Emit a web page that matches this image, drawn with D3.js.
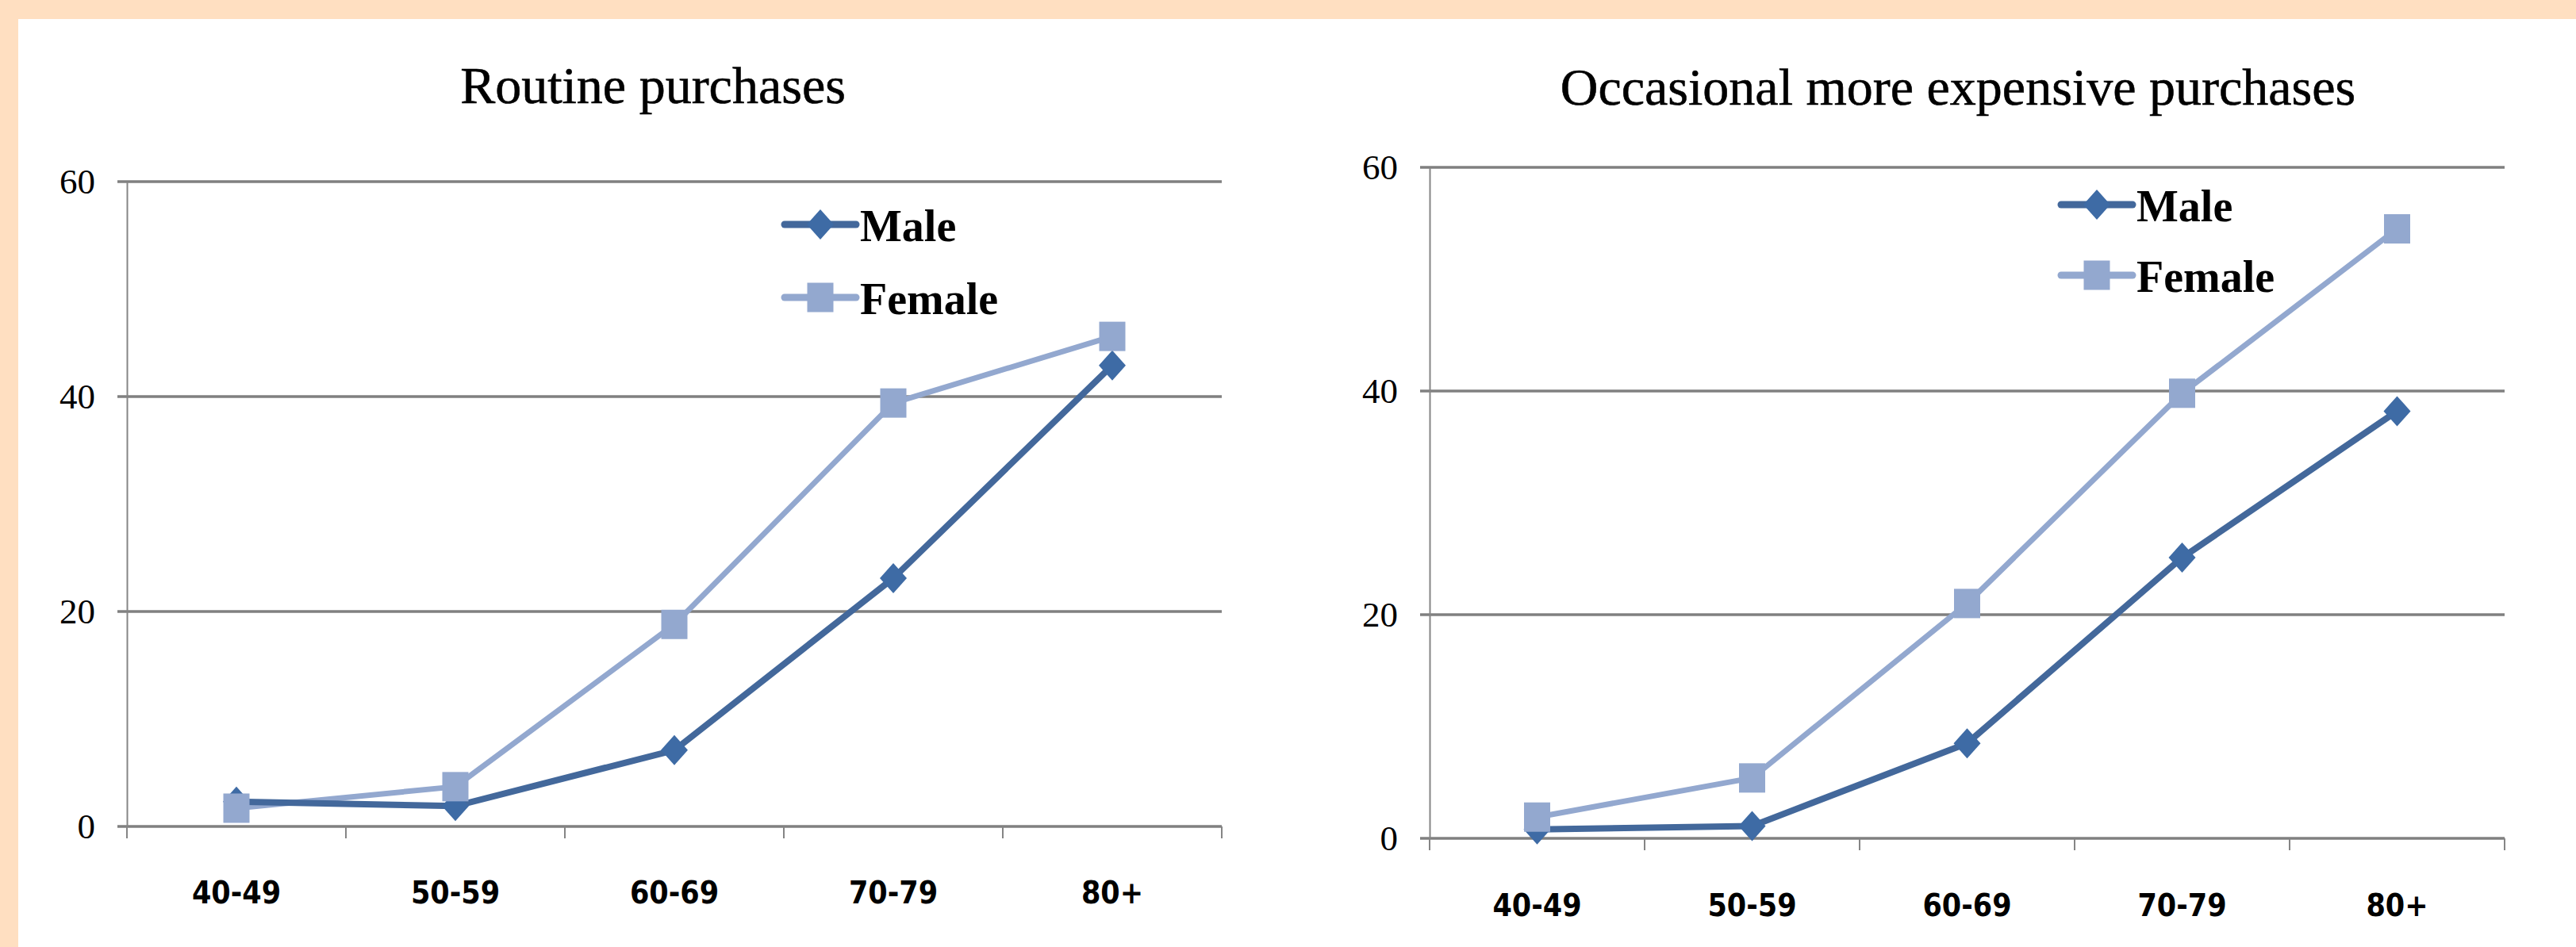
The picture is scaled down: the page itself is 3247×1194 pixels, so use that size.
<!DOCTYPE html>
<html>
<head>
<meta charset="utf-8">
<script src="https://cdn.jsdelivr.net/npm/d3@7"></script>
<style>
  html, body { margin: 0; padding: 0; background: #ffffff; }
  svg { display: block; }
</style>
</head>
<body>
<svg id="chart" width="3247" height="1194"></svg>
<script>
// ---- data ----
const categories = ["40-49", "50-59", "60-69", "70-79", "80+"];
const yTicks = [0, 20, 40, 60];
const seriesNames = ["Male", "Female"];
const routineMale = [2.3, 1.9, 7.1, 23.1, 42.9];
const routineFemale = [1.7, 3.7, 18.8, 39.4, 45.6];
const occasionalMale = [0.8, 1.1, 8.5, 25.1, 38.2];
const occasionalFemale = [1.9, 5.4, 21.0, 39.8, 54.5];
const titles = ["Routine purchases", "Occasional more expensive purchases"];

// ---- layout ----
const W = 3247, H = 1194;
const svg = d3.select("#chart");
const colors = {
  maleLine: "#43689B", maleMarker: "#3E6BA5",
  femaleLine: "#93A8CF", femaleMarker: "#93A8CF",
  grid: "#808080", axis: "#858585", bg: "#FFDFC1"
};

// background frame (peach top and left bands)
svg.append("rect").attr("x", 0).attr("y", 0).attr("width", W).attr("height", H).attr("fill", colors.bg);
svg.append("rect").attr("x", 23).attr("y", 24).attr("width", W - 23).attr("height", H - 24).attr("fill", "#ffffff");

const panels = [
  { title: titles[0], male: routineMale, female: routineFemale,
    x0: 160, x1: 1540, y0: 1042, y1: 229, titleX: 823, titleY: 130,
    legX: 989, legY: 283, legGap: 92, catY: 1139 },
  { title: titles[1], male: occasionalMale, female: occasionalFemale,
    x0: 1802, x1: 3157, y0: 1057, y1: 211, titleX: 2468, titleY: 132,
    legX: 2598, legY: 258, legGap: 89, catY: 1155 }
];

function diamond(sel, cx, cy, color) {
  const hw = 17, hh = 19;
  sel.append("path")
    .attr("d", `M${cx},${cy - hh}L${cx + hw},${cy}L${cx},${cy + hh}L${cx - hw},${cy}Z`)
    .attr("fill", color);
}
function square(sel, cx, cy, color) {
  sel.append("rect").attr("x", cx - 16.5).attr("y", cy - 18.5)
    .attr("width", 33).attr("height", 37).attr("fill", color);
}

panels.forEach(p => {
  const g = svg.append("g");
  const x = d3.scaleBand().domain(categories).range([p.x0, p.x1]).paddingInner(0).paddingOuter(0);
  const y = d3.scaleLinear().domain([0, 60]).range([p.y0, p.y1]);

  // title
  g.append("text").attr("x", p.titleX).attr("y", p.titleY)
    .attr("text-anchor", "middle")
    .style("font-family", "'Liberation Serif', 'Times New Roman', serif")
    .style("font-size", "66px").attr("fill", "#000")
    .attr("stroke", "#000").attr("stroke-width", 0.6)
    .text(p.title);

  // gridlines (including extension to the left of the axis)
  g.selectAll("line.grid").data(yTicks).enter().append("line")
    .attr("class", "grid")
    .attr("x1", p.x0 - 12).attr("x2", p.x1)
    .attr("y1", d => y(d)).attr("y2", d => y(d))
    .attr("stroke", colors.grid).attr("stroke-width", 3.5);

  // y axis
  const yAxis = d3.axisLeft(y).tickValues(yTicks).tickSize(0).tickPadding(40);
  const ya = g.append("g").attr("transform", `translate(${p.x0},0)`).call(yAxis);
  ya.select(".domain").attr("stroke", colors.axis).attr("stroke-width", 2);
  ya.selectAll("text")
    .style("font-family", "'Liberation Serif', 'Times New Roman', serif")
    .style("font-size", "45px").attr("fill", "#000");

  // x axis
  const xAxis = d3.axisBottom(x).tickSize(0).tickPadding(0);
  const xa = g.append("g").attr("transform", `translate(0,${p.y0})`).call(xAxis);
  xa.select(".domain").remove();
  xa.selectAll("text")
    .attr("y", p.catY - p.y0).attr("dy", 0)
    .style("font-family", "'DejaVu Sans Condensed', 'DejaVu Sans', sans-serif")
    .style("font-stretch", "condensed").style("font-weight", "bold")
    .style("font-size", "39px").attr("fill", "#000");

  // boundary tick marks
  const bounds = d3.range(categories.length + 1).map(i => p.x0 + i * x.step());
  g.selectAll("line.xtick").data(bounds).enter().append("line")
    .attr("class", "xtick")
    .attr("x1", d => d).attr("x2", d => d)
    .attr("y1", p.y0).attr("y2", p.y0 + 15)
    .attr("stroke", colors.axis).attr("stroke-width", 2);

  const cx = c => x(c) + x.bandwidth() / 2;
  const line = d3.line().x((d, i) => cx(categories[i])).y(d => y(d));

  // female series
  g.append("path").datum(p.female).attr("d", line)
    .attr("fill", "none").attr("stroke", colors.femaleLine).attr("stroke-width", 7)
    .attr("stroke-linejoin", "round");
  // male series
  g.append("path").datum(p.male).attr("d", line)
    .attr("fill", "none").attr("stroke", colors.maleLine).attr("stroke-width", 8)
    .attr("stroke-linejoin", "round");

  p.male.forEach((v, i) => diamond(g, cx(categories[i]), y(v), colors.maleMarker));
  p.female.forEach((v, i) => square(g, cx(categories[i]), y(v), colors.femaleMarker));

  // legend
  const leg = [
    { name: seriesNames[0], line: colors.maleLine, marker: colors.maleMarker, shape: diamond },
    { name: seriesNames[1], line: colors.femaleLine, marker: colors.femaleMarker, shape: square }
  ];
  leg.forEach((s, i) => {
    const ly = p.legY + i * p.legGap;
    g.append("line").attr("x1", p.legX).attr("x2", p.legX + 90)
      .attr("y1", ly).attr("y2", ly)
      .attr("stroke", s.line).attr("stroke-width", 9).attr("stroke-linecap", "round");
    s.shape(g, p.legX + 45, ly, s.marker);
    g.append("text").attr("x", p.legX + 95).attr("y", ly + 21)
      .style("font-family", "'Liberation Serif', 'Times New Roman', serif")
      .style("font-weight", "bold").style("font-size", "56px").attr("fill", "#000")
      .text(s.name);
  });
});
</script>
</body>
</html>
